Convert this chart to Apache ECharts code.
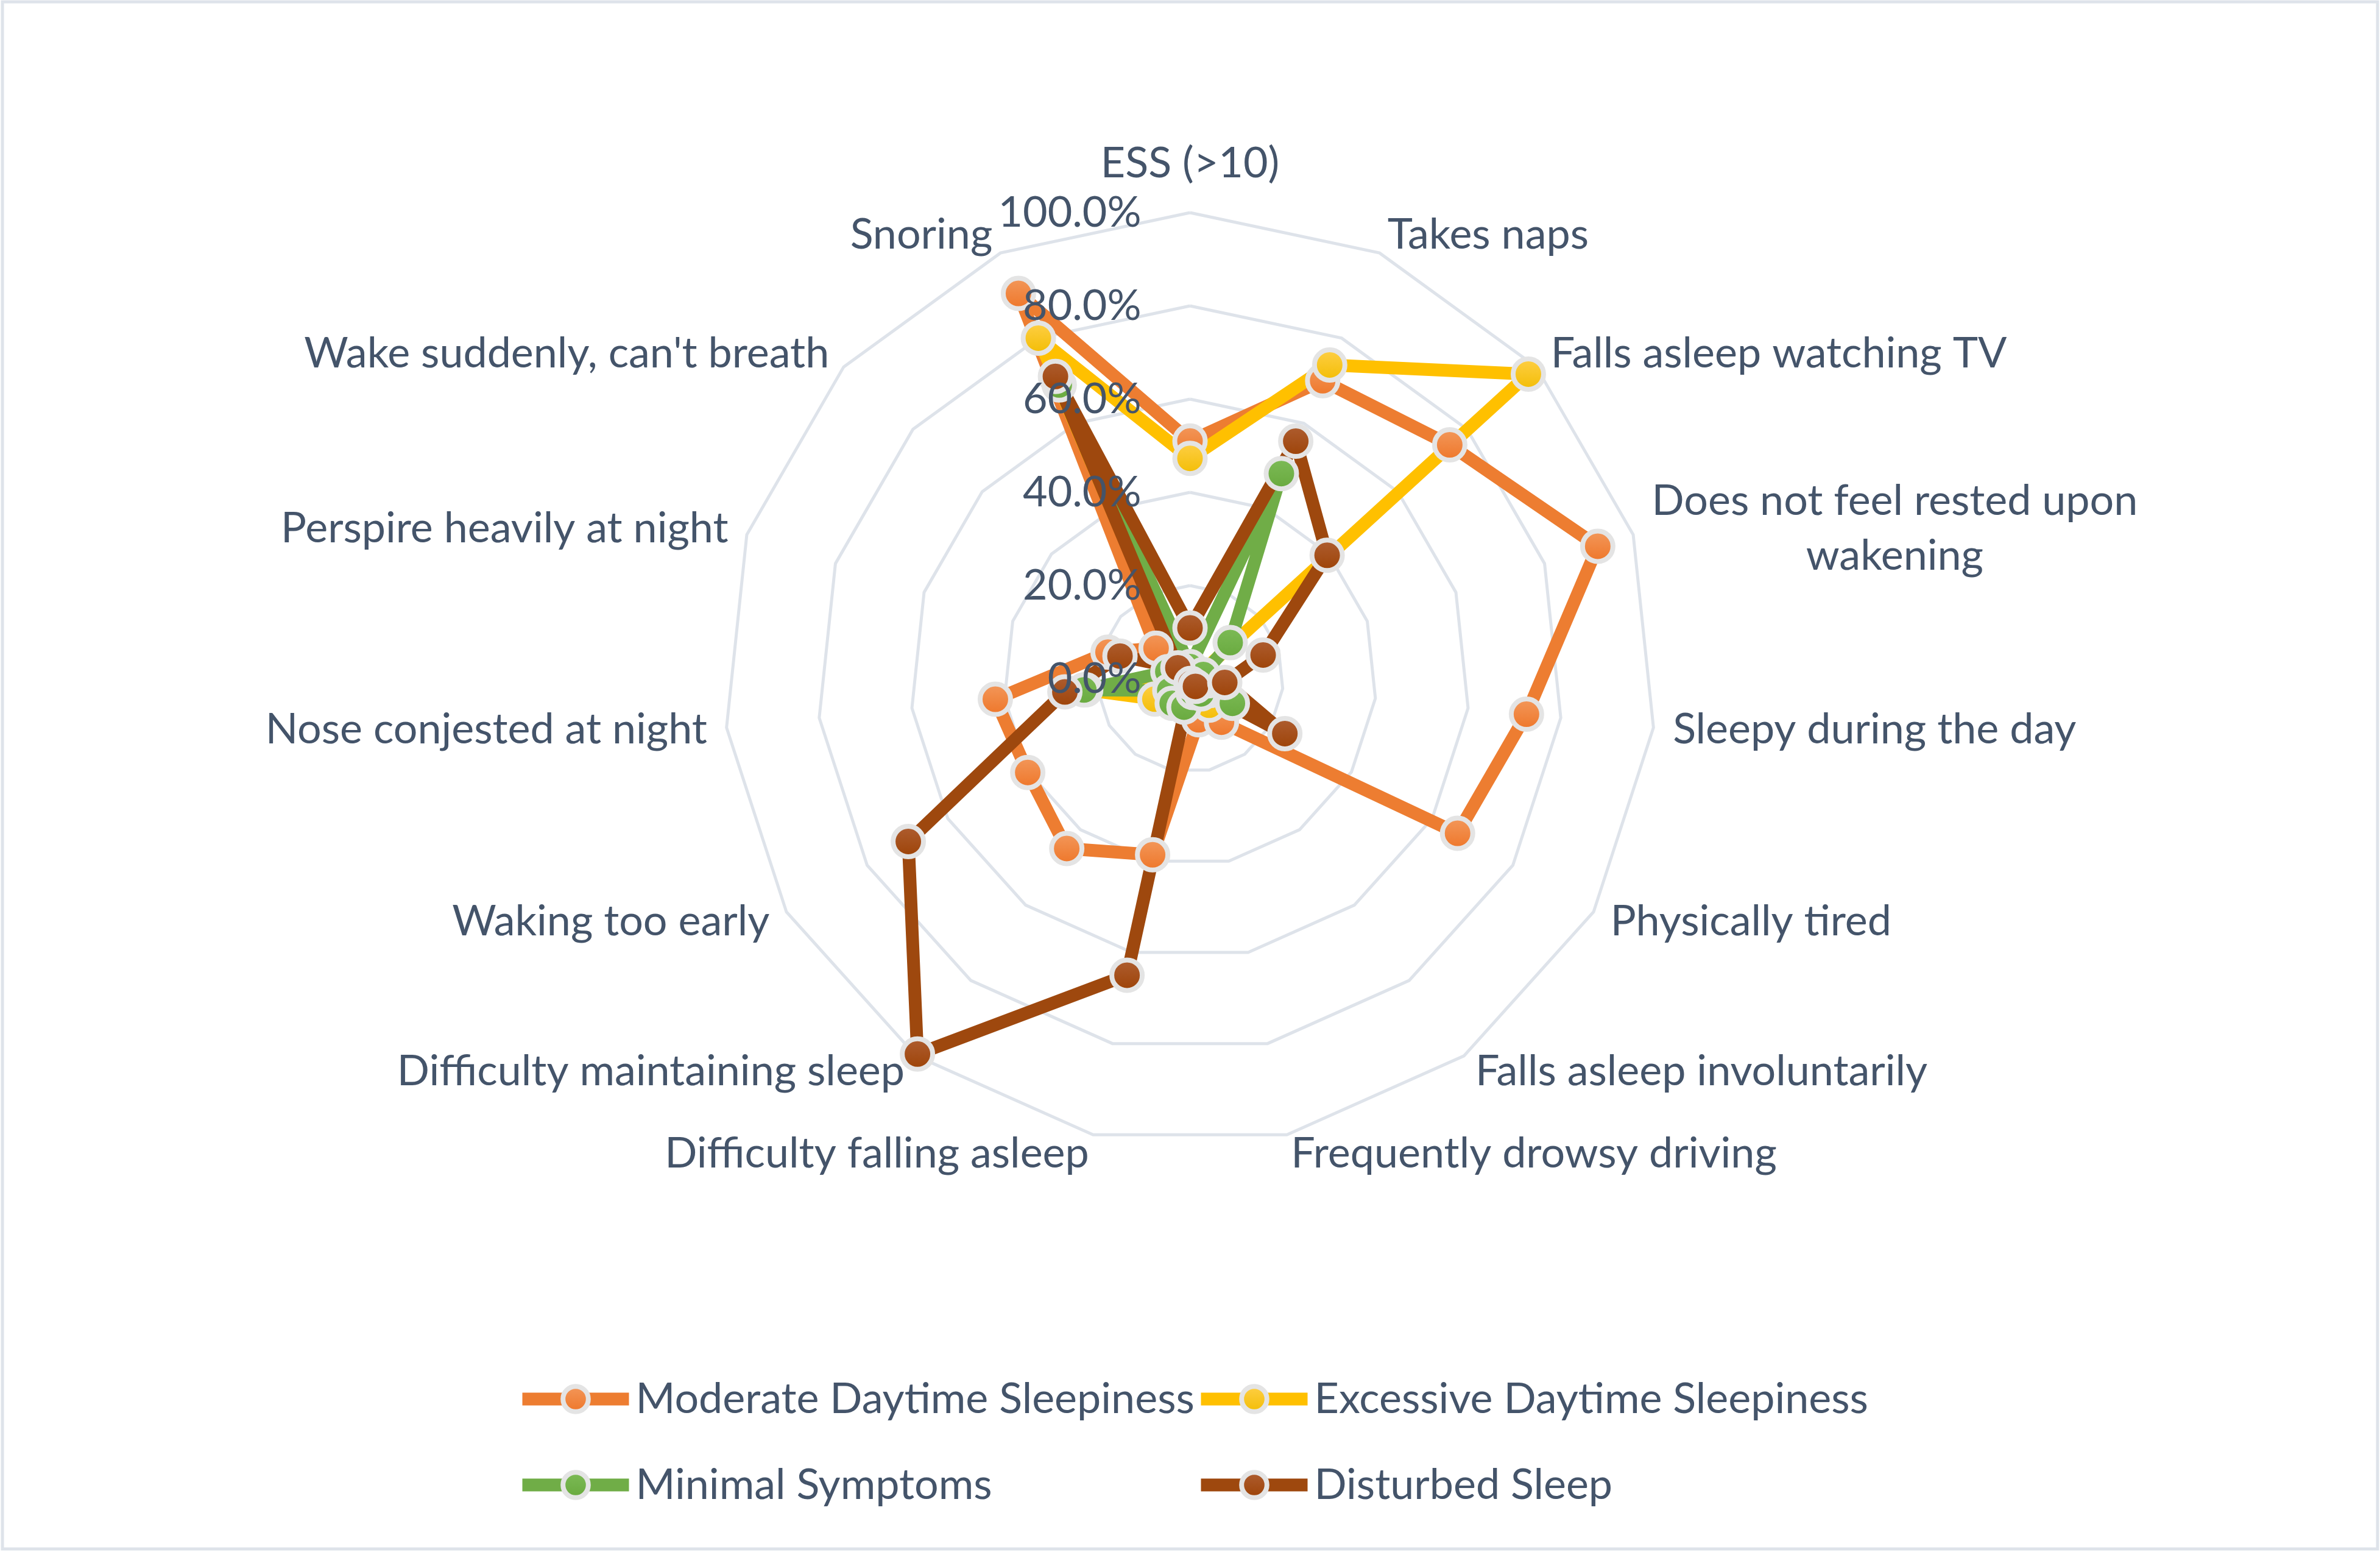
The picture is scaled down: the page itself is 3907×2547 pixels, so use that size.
<!DOCTYPE html>
<html>
<head>
<meta charset="utf-8">
<script src="https://cdn.jsdelivr.net/npm/echarts@6/dist/echarts.min.js"></script>
<style>
html,body{margin:0;padding:0;background:#ffffff;}
#c{width:3907px;height:2547px;}
</style>
</head>
<body>
<div id="c"></div>
<script>
// ---- data (Excel order, clockwise from top) ----
const categories = [
  'ESS (>10)', 'Takes naps', 'Falls asleep watching TV', 'Does not feel rested upon wakening',
  'Sleepy during the day', 'Physically tired', 'Falls asleep involuntarily', 'Frequently drowsy driving',
  'Difficulty falling asleep', 'Difficulty maintaining sleep', 'Waking too early', 'Nose conjested at night',
  'Perspire heavily at night', "Wake suddenly, can't breath", 'Snoring'
];
const seriesNames = ['Moderate Daytime Sleepiness', 'Excessive Daytime Sleepiness', 'Minimal Symptoms', 'Disturbed Sleep'];
const moderate  = [51.0, 70.0, 75.0, 92.0, 72.6, 66.3, 11.5, 9.0, 38.6, 45.0, 40.2, 42.0, 18.5, 9.8, 90.5];
const excessive = [47.3, 73.7, 97.7, 1.5, 3.0, 5.0, 7.0, 4.0, 4.0, 3.0, 8.7, 22.5, 4.5, 3.0, 80.0];
const minimal   = [2.6, 48.2, 11.6, 3.0, 4.0, 10.5, 4.0, 3.0, 6.2, 6.5, 5.0, 22.9, 5.0, 3.0, 69.0];
const disturbed = [10.9, 55.8, 39.6, 16.5, 7.5, 23.5, 2.0, 1.0, 65.0, 99.5, 69.8, 27.0, 15.8, 3.5, 71.0];
const tickValues = [0, 20, 40, 60, 80, 100];

// ---- styling ----
const seriesValues = [moderate, excessive, minimal, disturbed];
const lineColors = ['#ED7D31', '#FFC000', '#70AD47', '#9E480E'];
const markerTop = ['#F39A5E', '#FFD04A', '#7EBC58', '#AF5F33'];
const markerBottom = ['#EE7426', '#F2BC00', '#67A83C', '#9C4104'];
const TXT = '#44546A';
const FONT = 'Lato';
const FS = 70;
const GRID = '#DEE3EA';
const MARK_BORDER = '#E4E4E4';

// ECharts radar runs counter-clockwise; Excel runs clockwise -> reorder
const order = [0].concat(categories.map((_, i) => i).slice(1).reverse());
const maxV = tickValues[tickValues.length - 1];
const minV = tickValues[0];
const nSplit = tickValues.length - 1;

function wrapName(name) {
  const words = name.split(' ');
  const lines = [];
  let cur = '';
  words.forEach(w => {
    const t = cur ? cur + ' ' + w : w;
    if (t.length > 28 && cur) { lines.push(cur); cur = w; } else { cur = t; }
  });
  lines.push(cur);
  if (lines.length === 1) return name;
  return lines.map(l => '{c|' + l + '}').join('\n');
}

function grad(i) {
  return new echarts.graphic.LinearGradient(0, 0, 0, 1, [
    { offset: 0, color: markerTop[i] },
    { offset: 1, color: markerBottom[i] }
  ]);
}

const radarCommon = {
  center: ['50%', 1114],
  radius: 765,
  startAngle: 90,
  shape: 'polygon',
  splitNumber: nSplit
};

const gridIndicators = order.map((k, j) => j === 0
  ? { name: categories[k], min: minV, max: maxV, nameGap: 46 }
  : { name: categories[k], min: minV, max: maxV });
const labelIndicators = order.map((k, j) => j === 0
  ? { name: categories[k], min: minV, max: maxV, axisLabel: { show: true } }
  : { name: categories[k], min: minV, max: maxV });

// dummy line series (empty) only to give the legend a line+marker icon
const legendIconSeries = seriesNames.map((nm, i) => ({
  type: 'line', name: nm, data: [], silent: true,
  symbol: 'circle', symbolSize: 50,
  lineStyle: { color: lineColors[i], width: 21 },
  itemStyle: { color: grad(i), borderColor: MARK_BORDER, borderWidth: 8 }
}));

const radarSeries = seriesNames.map((nm, i) => ({
  type: 'radar', name: nm, radarIndex: 0,
  symbol: 'circle', symbolSize: 50,
  lineStyle: { color: lineColors[i], width: 21, join: 'round' },
  itemStyle: { color: grad(i), borderColor: MARK_BORDER, borderWidth: 8 },
  emphasis: { disabled: true },
  data: [{ name: nm, value: order.map(k => seriesValues[i][k]) }]
}));

const legendBase = {
  orient: 'vertical', top: 2256, itemWidth: 175, itemHeight: 52, itemGap: 71,
  textStyle: { color: TXT, fontFamily: FONT, fontSize: FS, padding: [0, 0, 0, 6] },
  itemStyle: { borderWidth: 8, borderColor: MARK_BORDER },
  lineStyle: { width: 21 }
};

const option = {
  animation: false,
  backgroundColor: '#ffffff',
  grid: { show: false, left: 0, top: 0, width: 1, height: 1 },
  xAxis: { type: 'category', show: false, data: [] },
  yAxis: { type: 'value', show: false },
  radar: [
    Object.assign({}, radarCommon, {
      z: 0,
      indicator: gridIndicators,
      nameGap: 32,
      axisName: {
        color: TXT, fontFamily: FONT, fontSize: FS,
        formatter: wrapName,
        rich: { c: { align: 'center', color: TXT, fontFamily: FONT, fontSize: FS, lineHeight: 90 } }
      },
      splitLine: { lineStyle: { color: GRID, width: 5 } },
      splitArea: { show: false },
      axisLine: { show: false },
      axisTick: { show: false },
      axisLabel: { show: false }
    }),
    Object.assign({}, radarCommon, {
      z: 5,
      indicator: labelIndicators,
      axisName: { show: false },
      splitLine: { show: false },
      splitArea: { show: false },
      axisLine: { show: false },
      axisTick: { show: false },
      axisLabel: {
        show: false, color: TXT, fontFamily: FONT, fontSize: FS, margin: 80,
        formatter: v => Number(v).toFixed(1) + '%'
      }
    })
  ],
  legend: [
    Object.assign({}, legendBase, { left: 842, data: [seriesNames[0], seriesNames[2]] }),
    Object.assign({}, legendBase, { left: 1956, data: [seriesNames[1], seriesNames[3]] })
  ],
  graphic: [{
    type: 'rect', silent: true, z: -10,
    shape: { x: 4, y: 3, width: 3899, height: 2539 },
    style: { fill: 'none', stroke: GRID, lineWidth: 5 }
  }],
  series: legendIconSeries.concat(radarSeries)
};

const chart = echarts.init(document.getElementById('c'), null, { renderer: 'canvas' });
chart.setOption(option);
</script>
</body>
</html>
